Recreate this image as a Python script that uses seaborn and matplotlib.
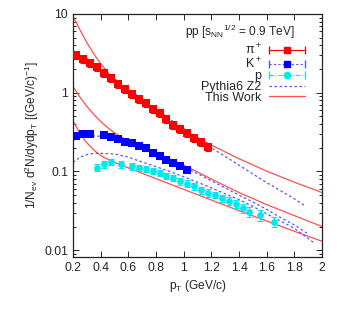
import numpy as np
import matplotlib
matplotlib.use("Agg")
import matplotlib.pyplot as plt
import seaborn as sns
from matplotlib.lines import Line2D
from matplotlib.legend_handler import HandlerLine2D

# ==============================
# DATA
# ==============================

# pi+ spectrum
pi_pt = [0.225, 0.275, 0.325, 0.375, 0.425, 0.475, 0.525, 0.575, 0.625, 0.675,
         0.725, 0.775, 0.825, 0.875, 0.925, 0.975, 1.025, 1.075, 1.125, 1.175]
pi_y = [2.97, 2.69, 2.40, 2.11, 1.79, 1.53, 1.30, 1.12, 0.96, 0.84,
        0.74, 0.63, 0.55, 0.47, 0.39, 0.35, 0.31, 0.27, 0.237, 0.207]
pi_err = [0.33, 0.30, 0.27, 0.24, 0.20, 0.17, 0.15, 0.13, 0.11, 0.095,
          0.085, 0.072, 0.063, 0.054, 0.045, 0.040, 0.036, 0.031, 0.028, 0.025]

# K+ spectrum
k_pt = [0.225, 0.275, 0.325, 0.425, 0.475, 0.525, 0.575, 0.625, 0.675, 0.725,
        0.775, 0.825, 0.875, 0.925, 0.975, 1.025]
k_y = [0.282, 0.303, 0.303, 0.288, 0.274, 0.262, 0.237, 0.228, 0.211, 0.197,
       0.170, 0.157, 0.140, 0.130, 0.118, 0.104]
k_err = [0.020, 0.021, 0.021, 0.020, 0.019, 0.018, 0.017, 0.016, 0.015, 0.014,
         0.012, 0.011, 0.010, 0.009, 0.0085, 0.0075]

# proton spectrum
p_pt = [0.375, 0.425, 0.475, 0.55, 0.625, 0.675, 0.725, 0.775, 0.825, 0.875,
        0.925, 0.975, 1.025, 1.075, 1.125, 1.175, 1.225, 1.275, 1.325, 1.375,
        1.425, 1.475, 1.55, 1.65]
p_y = [0.112, 0.124, 0.132, 0.124, 0.116, 0.112, 0.107, 0.102, 0.095, 0.088,
       0.082, 0.075, 0.070, 0.0646, 0.0585, 0.054, 0.0505, 0.0455, 0.0425, 0.0385,
       0.034, 0.0309, 0.028, 0.023]
p_err = [0.012, 0.012, 0.012, 0.012, 0.011, 0.010, 0.009, 0.009, 0.008, 0.008,
         0.007, 0.007, 0.007, 0.006, 0.006, 0.006, 0.005, 0.005, 0.005, 0.0045,
         0.0045, 0.0045, 0.0042, 0.0035]

# "This Work" fit curves
fit_pt = [0.2, 0.25, 0.3, 0.35, 0.4, 0.45, 0.5, 0.55, 0.6, 0.7, 0.8, 0.9, 1.0,
          1.2, 1.4, 1.6, 1.8, 2.0]
fit_pi = [9.4, 6.28, 4.32, 3.11, 2.33, 1.82, 1.47, 1.22, 1.024, 0.751, 0.563, 0.432, 0.338,
          0.216, 0.145, 0.101, 0.073, 0.054]
fit_k = [1.2, 0.879, 0.671, 0.53, 0.431, 0.36, 0.31, 0.273, 0.245, 0.203, 0.171, 0.1435, 0.121,
         0.08, 0.054, 0.038, 0.0275, 0.020]
fit_p = [0.44, 0.304, 0.231, 0.1875, 0.1596, 0.143, 0.1305, 0.120, 0.111, 0.0948, 0.081, 0.0693, 0.0593,
         0.0434, 0.0318, 0.0235, 0.0174, 0.013]

# Pythia6 Z2 curves
py_pi_pt = [0.2, 0.3, 0.4, 0.5, 0.6, 0.7, 0.8, 0.9, 1.0, 1.1, 1.2, 1.3, 1.4, 1.5, 1.6, 1.7, 1.8, 1.875]
py_pi = [3.3, 2.7, 2.07, 1.5, 1.1, 0.84, 0.63, 0.46, 0.35, 0.27, 0.2, 0.155, 0.12, 0.093, 0.072, 0.057, 0.045, 0.0367]
py_k_pt = [0.2, 0.3, 0.4, 0.5, 0.6, 0.7, 0.8, 0.9, 1.0, 1.1, 1.2, 1.3, 1.4, 1.5, 1.6, 1.7, 1.8, 1.89]
py_k = [0.25, 0.285, 0.28, 0.26, 0.235, 0.205, 0.17, 0.142, 0.115, 0.094, 0.076, 0.062, 0.05, 0.041, 0.033, 0.026, 0.021, 0.0165]
py_p_pt = [0.2, 0.25, 0.3, 0.35, 0.4, 0.5, 0.6, 0.7, 0.8, 0.9, 1.0, 1.1, 1.2, 1.3, 1.4, 1.5, 1.6, 1.7, 1.8, 1.94]
py_p = [0.13, 0.152, 0.164, 0.17, 0.17, 0.167, 0.152, 0.132, 0.115, 0.1, 0.086, 0.073, 0.062, 0.052, 0.044, 0.036, 0.029, 0.0235, 0.019, 0.0125]

x_ticks = [0.2, 0.4, 0.6, 0.8, 1.0, 1.2, 1.4, 1.6, 1.8, 2.0]
x_labels = ["0.2", "0.4", "0.6", "0.8", "1", "1.2", "1.4", "1.6", "1.8", "2"]
y_ticks = [0.01, 0.1, 1, 10]
y_labels = ["0.01", "0.1", "1", "10"]

# ==============================
# STYLE
# ==============================
sns.set_style("ticks")
plt.rcParams["font.family"] = ["Liberation Sans", "DejaVu Sans"]
plt.rcParams["mathtext.default"] = "regular"
FS = 8.6

RED = "#ff0000"
LRED = "#ff5050"
BLUE = "#0000ff"
PYBLUE = "#5555ff"
CYAN = "#00e8f0"

fig = plt.figure(figsize=(3.46, 3.09), dpi=100)
ax = fig.add_axes([0.211, 0.168, 0.72, 0.787])

# fit curves
for yy in (fit_pi, fit_k, fit_p):
    sns.lineplot(x=fit_pt, y=yy, ax=ax, color=LRED, lw=0.9, sort=False)

# pythia curves
for xx, yy in ((py_pi_pt, py_pi), (py_k_pt, py_k), (py_p_pt, py_p)):
    sns.lineplot(x=xx, y=yy, ax=ax, color=PYBLUE, lw=0.9, sort=False,
                 linestyle=(0, (2, 2)))

# systematic boxes
ax.errorbar(pi_pt, pi_y, yerr=np.array(pi_err) * 0.8, fmt="none", ecolor="#ff9090",
            elinewidth=6, alpha=0.5, zorder=3)
ax.errorbar(k_pt, k_y, yerr=np.array(k_err) * 1.2, fmt="none", ecolor="#9090ff",
            elinewidth=6, alpha=0.5, zorder=3)

# stat error bars
ax.errorbar(pi_pt, pi_y, yerr=pi_err, fmt="none", ecolor=RED, elinewidth=0.8,
            capsize=2.5, capthick=0.8, zorder=4)
ax.errorbar(k_pt, k_y, yerr=k_err, fmt="none", ecolor=BLUE, elinewidth=0.8,
            capsize=2.5, capthick=0.8, zorder=4)
ax.errorbar(p_pt, p_y, yerr=p_err, fmt="none", ecolor=CYAN, elinewidth=0.8,
            capsize=2.5, capthick=0.8, zorder=4)

# markers
sns.scatterplot(x=pi_pt, y=pi_y, ax=ax, marker="s", color=RED, s=26, linewidth=0, zorder=5)
sns.scatterplot(x=k_pt, y=k_y, ax=ax, marker="s", color=BLUE, s=26, linewidth=0, zorder=5)
sns.scatterplot(x=p_pt, y=p_y, ax=ax, marker="o", color=CYAN, s=24, linewidth=0, zorder=5)

# ==============================
# AXES
# ==============================
ax.set_yscale("log")
ax.set_xlim(0.2, 2.0)
ax.set_ylim(0.0082, 10)
ax.set_xticks(x_ticks, labels=x_labels)
ax.set_yticks(y_ticks, labels=y_labels)
ax.xaxis.set_minor_locator(matplotlib.ticker.NullLocator())
ax.tick_params(which="both", direction="in", top=True, right=True, labelsize=FS + 0.2, width=0.7)
ax.tick_params(which="major", length=4)
ax.tick_params(which="minor", length=2.2)
for sp in ax.spines.values():
    sp.set_linewidth(0.9)
    sp.set_color("#222222")

ax.set_xlabel("p$_T$ (GeV/c)", fontsize=FS, labelpad=3)
ax.set_ylabel("1/N$_{ev}$ d$^2$N/dydp$_T$ [(GeV/c)$^{-1}$]", fontsize=FS, labelpad=2)

ax.text(0.89, 0.925, "pp [s$_{NN}$$^{1/2}$ = 0.9 TeV]", transform=ax.transAxes,
        ha="right", va="center", fontsize=FS)

# ==============================
# LEGEND
# ==============================
pi_bar = Line2D([], [], color=RED, lw=0.8, marker="|", markersize=6)
pi_mk = Line2D([], [], color=RED, ls="none", marker="s", markersize=5)
k_bar = Line2D([], [], color=PYBLUE, lw=0.8, ls=(0, (2, 2)), marker="|", markersize=6)
k_mk = Line2D([], [], color=BLUE, ls="none", marker="s", markersize=5)
p_bar = Line2D([], [], color=CYAN, lw=0.8, ls=(0, (4, 1.5, 1, 1.5)), marker="|", markersize=6)
p_mk = Line2D([], [], color=CYAN, ls="none", marker="o", markersize=4.5)
py_h = Line2D([], [], color=PYBLUE, lw=0.9, ls=(0, (2, 2)))
fit_h = Line2D([], [], color=LRED, lw=0.9)

hmap = {b: HandlerLine2D(numpoints=2, marker_pad=0.0) for b in (pi_bar, k_bar, p_bar)}
hmap.update({m: HandlerLine2D(numpoints=1) for m in (pi_mk, k_mk, p_mk)})

ax.legend([(pi_bar, pi_mk), (k_bar, k_mk), (p_bar, p_mk), py_h, fit_h],
          ["π$^+$", "K$^+$", "p", "Pythia6 Z2", "This Work"],
          handler_map=hmap, markerfirst=False, frameon=False, loc="upper right",
          bbox_to_anchor=(0.968, 0.92), handlelength=2.9, labelspacing=-0.09,
          handletextpad=0.6, fontsize=9, borderpad=0.2)

fig.savefig("out.png", dpi=100)
